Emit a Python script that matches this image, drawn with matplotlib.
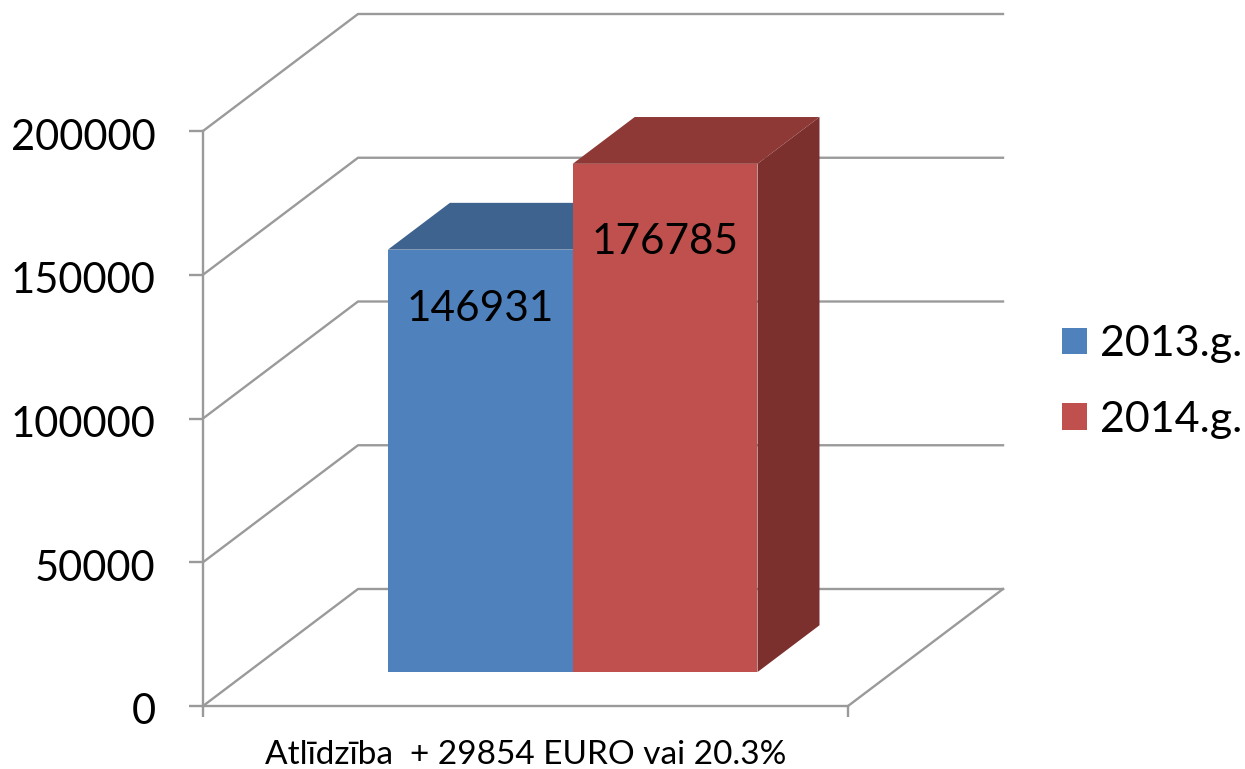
import matplotlib.pyplot as plt
from matplotlib.patches import Patch
from matplotlib.transforms import ScaledTranslation

plt.rcParams["font.family"] = ["Lato", "DejaVu Sans"]

# data
series = ["2013.g.", "2014.g."]
values = [146931, 176785]
category = "Atlīdzība  + 29854 EURO vai 20.3%"
yticks = [0, 50000, 100000, 150000, 200000]

colors = ["#4F81BD", "#C0504D"]
top_colors = ["#3E638F", "#8E3936"]
side_colors = ["#30506F", "#7B302E"]
line_color = "#9A9A9A"
label_drop = [43, 56]

# depth of the fake 3d box, in axis units
DX = 155 / 645
DY = 117 / 575 * 200000
D0 = 0.29
D1 = 0.69
bar_left = 0.217
bar_width = 0.2865


def project(x, v, d):
    return x + d * DX, v + d * DY


fig = plt.figure(figsize=(12.45, 7.69), dpi=100)
ax = fig.add_axes([203 / 1245, (769 - 706) / 769, 645 / 1245, 575 / 769])
ax.set_xlim(0, 1)
ax.set_ylim(0, 200000)

# walls and floor
for v in yticks:
    xs = [0, project(0, v, 1)[0], project(1, v, 1)[0]]
    ys = [v, project(0, v, 1)[1], project(1, v, 1)[1]]
    ax.plot(xs, ys, color=line_color, lw=1.7, clip_on=False, zorder=1)
ax.plot([1, project(1, 0, 1)[0]], [0, project(1, 0, 1)[1]],
        color=line_color, lw=1.7, clip_on=False, zorder=1)

# bars
for i, v in enumerate(values):
    x0 = bar_left + i * bar_width
    x1 = x0 + bar_width
    front = [project(x0, 0, D0), project(x1, 0, D0), project(x1, v, D0), project(x0, v, D0)]
    top = [project(x0, v, D0), project(x1, v, D0), project(x1, v, D1), project(x0, v, D1)]
    side = [project(x1, 0, D0), project(x1, 0, D1), project(x1, v, D1), project(x1, v, D0)]
    z = 2 + i
    ax.fill(*zip(*side), color=side_colors[i], lw=0, clip_on=False, zorder=z)
    ax.fill(*zip(*top), color=top_colors[i], lw=0, clip_on=False, zorder=z)
    ax.fill(*zip(*front), color=colors[i], lw=0, clip_on=False, zorder=z)
    ax.annotate(str(v), xy=project((x0 + x1) / 2, v, D0), xytext=(0, -label_drop[i]),
                textcoords="offset points", ha="center", va="center",
                fontsize=30.5, color="black", zorder=5)

# axes
for s in ["top", "right"]:
    ax.spines[s].set_visible(False)
for s in ["left", "bottom"]:
    ax.spines[s].set_color(line_color)
    ax.spines[s].set_linewidth(1.7)
ax.set_yticks(yticks)
ax.set_xticks([0, 1])
ax.set_xticklabels([])
ax.tick_params(axis="y", length=10, width=1.7, color=line_color, labelsize=30, pad=24)
ax.tick_params(axis="x", length=8, width=1.7, color=line_color)
ax.set_xlabel(category, fontsize=24, labelpad=13)
ax.patch.set_alpha(0)

# tick labels sit a little lower than the ticks
shift = ScaledTranslation(0, -3 / 100, fig.dpi_scale_trans)
for lab in ax.get_yticklabels():
    lab.set_transform(lab.get_transform() + shift)

# legend
handles = [Patch(facecolor=c, edgecolor="none", label=s) for c, s in zip(colors, series)]
ax.legend(handles=handles, loc="center left", bbox_to_anchor=(1062 / 1245, 1 - 382 / 769),
          bbox_transform=fig.transFigure, frameon=False, fontsize=31,
          handlelength=0.58, handleheight=0.58, handletextpad=0.31,
          labelspacing=0.87, borderpad=0, borderaxespad=0)

fig.savefig("out.png", dpi=100)
